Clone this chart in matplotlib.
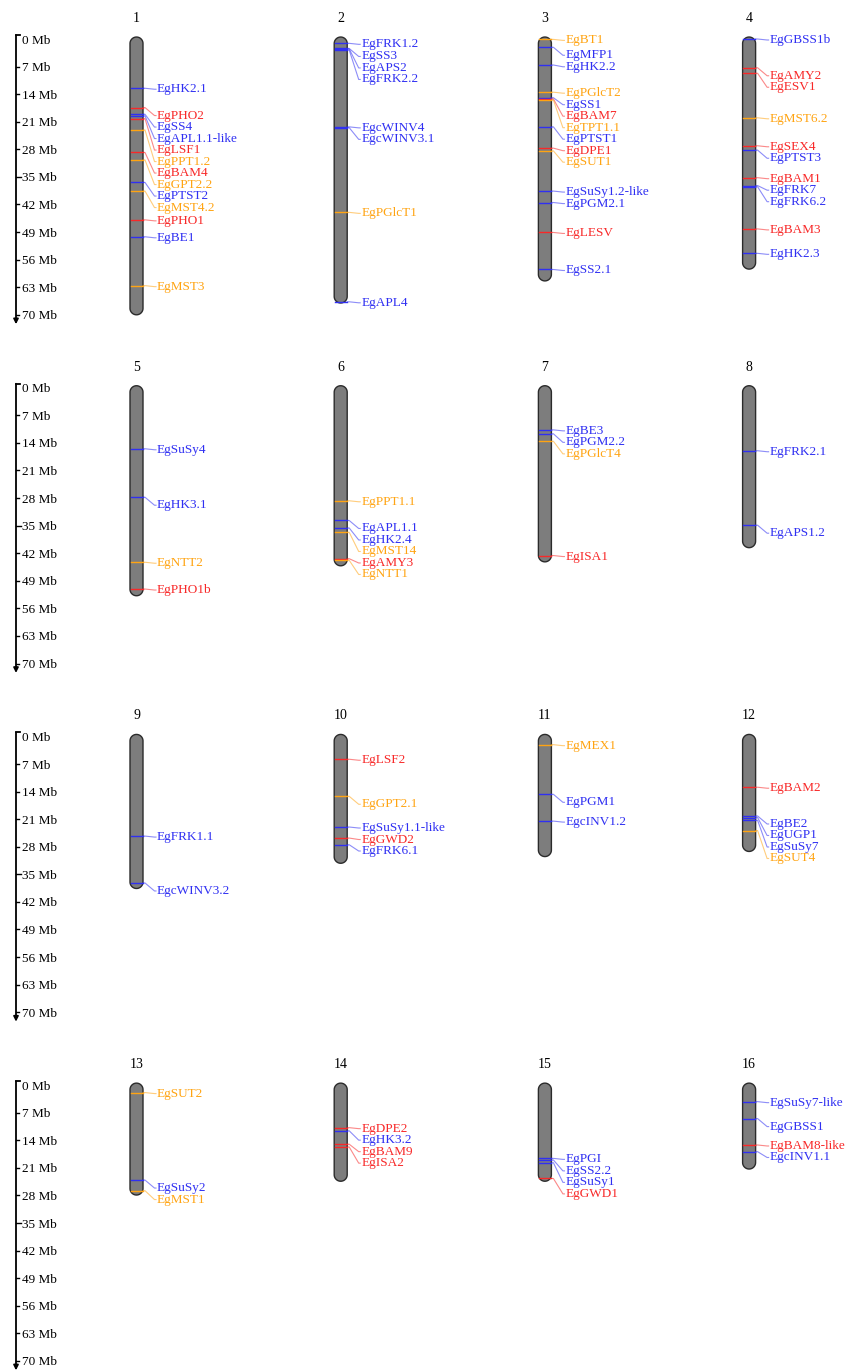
import matplotlib
matplotlib.use('Agg')
import matplotlib.pyplot as plt
from matplotlib.patches import Polygon
import numpy as np

plt.rcParams['font.family'] = ['Liberation Serif', 'DejaVu Serif']

# chromosome lengths (Mb), chromosomes 1..16
chrom_len = [70.0, 67.0, 61.4, 58.4, 52.8, 45.2, 44.2, 40.6,
             38.6, 32.2, 30.5, 29.2, 27.9, 24.4, 24.4, 21.3]

# genes: chromosome, name, position (Mb), colour class
gene_chr = [1] * 13 + [2] * 8 + [3] * 14 + [4] * 11 + [5] * 4 + [6] * 6 + [7] * 4 + [8] * 2 \
    + [9] * 2 + [10] * 5 + [11] * 3 + [12] * 5 + [13] * 3 + [14] * 4 + [15] * 4 + [16] * 4
gene_name = [
    'EgHK2.1', 'EgPHO2', 'EgSS4', 'EgAPL1.1-like', 'EgLSF1', 'EgPPT1.2', 'EgBAM4',
    'EgGPT2.2', 'EgPTST2', 'EgMST4.2', 'EgPHO1', 'EgBE1', 'EgMST3',
    'EgFRK1.2', 'EgSS3', 'EgAPS2', 'EgFRK2.2', 'EgcWINV4', 'EgcWINV3.1', 'EgPGlcT1', 'EgAPL4',
    'EgBT1', 'EgMFP1', 'EgHK2.2', 'EgPGlcT2', 'EgSS1', 'EgBAM7', 'EgTPT1.1', 'EgPTST1',
    'EgDPE1', 'EgSUT1', 'EgSuSy1.2-like', 'EgPGM2.1', 'EgLESV', 'EgSS2.1',
    'EgGBSS1b', 'EgAMY2', 'EgESV1', 'EgMST6.2', 'EgSEX4', 'EgPTST3', 'EgBAM1', 'EgFRK7',
    'EgFRK6.2', 'EgBAM3', 'EgHK2.3',
    'EgSuSy4', 'EgHK3.1', 'EgNTT2', 'EgPHO1b',
    'EgPPT1.1', 'EgAPL1.1', 'EgHK2.4', 'EgMST14', 'EgAMY3', 'EgNTT1',
    'EgBE3', 'EgPGM2.2', 'EgPGlcT4', 'EgISA1',
    'EgFRK2.1', 'EgAPS1.2',
    'EgFRK1.1', 'EgcWINV3.2',
    'EgLSF2', 'EgGPT2.1', 'EgSuSy1.1-like', 'EgGWD2', 'EgFRK6.1',
    'EgMEX1', 'EgPGM1', 'EgcINV1.2',
    'EgBAM2', 'EgBE2', 'EgUGP1', 'EgSuSy7', 'EgSUT4',
    'EgSUT2', 'EgSuSy2', 'EgMST1',
    'EgDPE2', 'EgHK3.2', 'EgBAM9', 'EgISA2',
    'EgPGI', 'EgSS2.2', 'EgSuSy1', 'EgGWD1',
    'EgSuSy7-like', 'EgGBSS1', 'EgBAM8-like', 'EgcINV1.1',
]
gene_pos = [
    12.5, 17.4, 19.1, 19.5, 20.2, 23.1, 28.8, 30.7, 36.4, 38.6, 45.9, 50.2, 62.6,
    1.1, 2.4, 2.5, 2.8, 22.3, 22.5, 44.0, 66.7,
    0.1, 2.1, 6.6, 13.5, 14.9, 15.2, 15.5, 22.3, 27.7, 28.4, 38.6, 41.5, 49.1, 58.5,
    0.0, 7.3, 8.7, 20.0, 27.1, 28.2, 35.2, 37.2, 37.5, 48.2, 54.4,
    15.5, 27.8, 44.3, 51.1,
    28.7, 33.7, 35.6, 36.7, 43.4, 43.8,
    10.7, 11.7, 13.6, 42.6,
    16.0, 34.9,
    25.3, 37.2,
    5.8, 15.2, 23.0, 25.8, 27.5,
    2.1, 14.7, 21.5,
    12.9, 20.2, 20.6, 21.3, 23.9,
    1.9, 24.1, 26.8,
    10.8, 11.6, 15.0, 15.7,
    18.6, 19.0, 19.7, 23.7,
    4.2, 8.5, 15.2, 16.9,
]
cls_by_chrom = [
    'BRBBROROBORBO', 'BBBBBBOB', 'OBBOBROBROBBRB', 'BRRORBRBBRB',
    'BBOR', 'OBBORO', 'BBOR', 'BB',
    'BB', 'ROBRB', 'OBB', 'RBBBO',
    'OBO', 'RBRR', 'BBBR', 'BBRB',
]
gene_cls = list(''.join(cls_by_chrom))

ruler_ticks = list(range(0, 71, 7))

COLORS = {'B': '#2f2ff2', 'R': '#f82828', 'O': '#ffa412'}
PX = 3.94            # pixels per Mb
W, H = 846, 1370
row_y0 = [39 + r * 348.7 for r in range(4)]
chrom_x = [136.5 + k * 204.2 for k in range(4)]
half_w = 6.5
gap_px = 11.5
FS = 9.5


def chrom_outline(cx, top, bottom):
    # rounded-end rod, radius half_w in pixels, y given in Mb
    t = np.linspace(0, np.pi, 30)
    r_mb = half_w / PX
    top_arc = np.column_stack([cx + half_w * np.cos(t), top + r_mb - r_mb * np.sin(t)])
    bot_arc = np.column_stack([cx - half_w * np.cos(t), bottom - r_mb + r_mb * np.sin(t)])
    return np.vstack([top_arc, bot_arc])


fig = plt.figure(figsize=(W / 100, H / 100), dpi=100)

for r in range(4):
    top_px, bot_px = row_y0[r] - 30, row_y0[r] + 286
    ax = fig.add_axes([0, 1 - bot_px / H, 1, (bot_px - top_px) / H])
    ax.set_xlim(0, W)
    ax.set_ylim((bot_px - row_y0[r]) / PX, (top_px - row_y0[r]) / PX)
    ax.axis('off')

    # ruler
    ax.annotate('', xy=(16, 72.4), xytext=(16, -1.0),
                arrowprops=dict(arrowstyle='-|>', lw=1.3, color='black',
                                mutation_scale=7, shrinkA=0, shrinkB=0))
    ax.plot([16, 20], [-1.0, -1.0], color='black', lw=1.3, clip_on=False)
    for t in ruler_ticks:
        ln = 4.5 if t == 35 else 2.5
        if t > 0:
            ax.plot([16, 16 + ln], [t, t], color='black', lw=1.0, clip_on=False)
        ax.text(22, t + 0.4, f'{t} Mb', fontsize=FS, va='center', ha='left')

    for k in range(4):
        c = r * 4 + k + 1
        cx = chrom_x[k]
        L = chrom_len[c - 1]
        ax.add_patch(Polygon(chrom_outline(cx, -0.5, L), closed=True,
                             facecolor='#7d7d7d', edgecolor='#2b2b2b', lw=1.0,
                             clip_on=False, zorder=2))
        ax.text(cx, -5.2, str(c), fontsize=10, ha='center', va='center')

        idx = [i for i in range(len(gene_chr)) if gene_chr[i] == c]
        idx.sort(key=lambda i: gene_pos[i])
        prev = None
        for n, i in enumerate(idx):
            p_px = gene_pos[i] * PX
            lab = p_px + 1 + (7 if n == 1 else 0)
            if prev is not None:
                lab = max(lab, prev + gap_px)
            prev = lab
            lab_mb = lab / PX
            col = COLORS[gene_cls[i]]
            ax.plot([cx - half_w + 0.5, cx + half_w - 0.5], [gene_pos[i]] * 2, color=col,
                    lw=1.0, zorder=3, clip_on=False)
            ax.plot([cx + half_w, cx + 8.5, cx + 18, cx + 19.5],
                    [gene_pos[i], gene_pos[i], lab_mb, lab_mb],
                    color=col, lw=0.8, alpha=0.55, zorder=3, clip_on=False)
            ax.text(cx + 20.5, lab_mb, gene_name[i], color=col, fontsize=FS,
                    va='center', ha='left')

fig.savefig('out.png', dpi=100)
